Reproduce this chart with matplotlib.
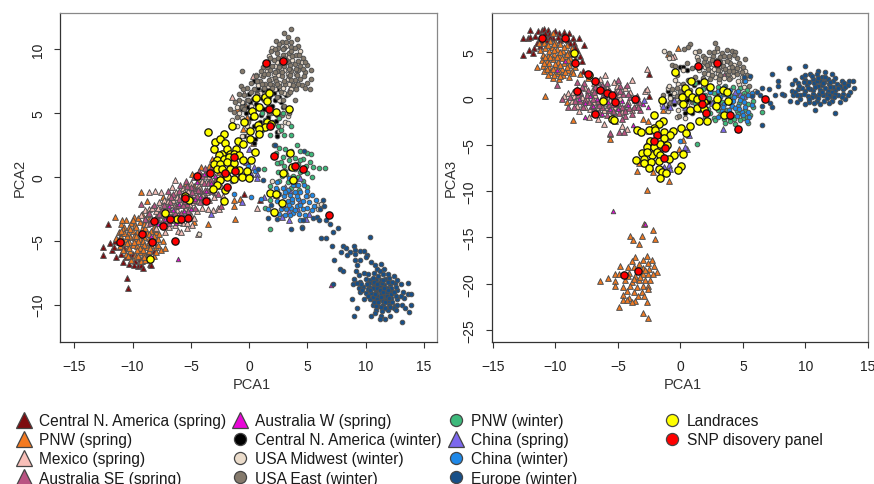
import matplotlib
matplotlib.use("Agg")
import matplotlib.pyplot as plt
from matplotlib.lines import Line2D

plt.rcParams['font.family'] = ['Liberation Sans', 'DejaVu Sans']

# ---------- PCA1 vs PCA2 ----------
cna_s_12 = [(-12.5,-5.5),(-12.5,-6.1),(-12.1,-3.7),(-11.9,-5.2),(-11.8,-5.7),(-11.6,-5.5),(-11.4,-6.3),(-11.2,-4.9),(-11.0,-6.0),(-10.8,-6.7),(-10.7,-5.6),(-10.5,-7.9),(-10.4,-8.7),(-10.2,-6.2),(-9.8,-6.6),(-9.5,-7.0),(-9.3,-6.9),(-9.2,-6.6),(-8.9,-6.2),(-8.5,-6.8),(-8.4,-6.9),(-8.2,-5.8),(-0.4,-1.3),(0.9,-1.8),(-10.9,-4.4),(-9.9,-6.9),(-11.5,-5.0),(-11.1,-5.5),(-10.6,-6.3),(-10.0,-6.0),(-9.4,-6.4),(-8.7,-5.9),(-9.1,-7.1),(-10.3,-6.8)]
pnw_s_12 = [(-11.5,-3.1),(-10.6,-3.4),(-9.9,-3.1),(-9.2,-2.9),(-8.6,-3.2),(-11.0,-3.7),(-10.7,-3.9),(-10.1,-3.6),(-9.8,-3.8),(-9.4,-3.5),(-9.0,-3.7),(-8.7,-3.6),(-8.2,-3.9),(-11.2,-4.3),(-10.8,-4.1),(-10.4,-4.4),(-10.0,-4.2),(-9.6,-4.3),(-9.2,-4.1),(-8.8,-4.4),(-8.4,-4.2),(-8.0,-4.3),(-11.4,-4.8),(-11.0,-4.7),(-10.6,-4.9),(-10.2,-4.7),(-9.8,-4.8),(-9.4,-4.9),(-9.0,-4.7),(-8.6,-4.8),(-8.2,-4.6),(-7.8,-4.9),(-11.1,-5.4),(-10.8,-5.2),(-10.4,-5.5),(-10.0,-5.3),(-9.6,-5.4),(-9.2,-5.2),(-8.8,-5.5),(-8.4,-5.3),(-8.0,-5.5),(-7.6,-5.7),(-10.6,-6.0),(-10.2,-5.8),(-9.8,-6.1),(-9.4,-5.9),(-9.0,-6.0),(-8.6,-5.8),(-8.2,-6.2),(-10.1,-6.5),(-9.7,-6.3),(-9.3,-6.6),(-8.9,-6.5),(-8.5,-6.3),(-9.9,-4.6),(-9.5,-5.0),(-10.3,-5.1),(-9.1,-5.0),(-8.9,-4.0),(-10.5,-4.6),(-9.7,-3.9),(-10.9,-5.0),
 (-9.3,-1.2),(-7.4,-1.6),(-8.8,-1.9),(-4.7,-0.7),(-4.4,-0.2),(-4.1,0.8),(-3.8,0.2),(-3.4,-0.4),(-4.9,0.2),(-3.0,0.7),(-2.6,0.4),(-3.2,1.4),(-1.3,-2.3),(-1.3,-1.8),(-1.2,-3.3),(-0.8,-1.7),(-3.5,-3.7),(-4.7,-3.5),(-0.8,5.5),(-0.3,5.6),(-0.2,4.7),(-0.5,3.8),(-1.0,5.3),(0.3,2.7),(-2.8,-0.1),(-5.4,-0.5),(-7.3,-2.7),(-7.9,-3.0),
 (-10.9,-3.4),(-10.3,-3.9),(-9.5,-3.2),(-8.9,-3.3),(-10.7,-4.4),(-10.2,-4.1),(-9.7,-4.6),(-9.3,-4.4),(-8.6,-4.5),(-8.1,-4.1),(-11.2,-5.1),(-10.5,-5.2),(-9.9,-5.1),(-9.4,-5.6),(-9.0,-5.3),(-8.6,-5.1),(-8.2,-5.1),(-7.8,-5.3),(-10.8,-5.7),(-10.3,-5.6),(-9.6,-5.7),(-9.1,-5.7),(-8.5,-5.6),(-8.0,-5.9),(-10.4,-6.2),(-9.5,-6.2),(-9.0,-6.3),(-7.4,-5.0),(-7.7,-4.5),(-7.2,-5.6),(-10.0,-3.4),(-11.0,-4.2),(-2.4,1.0),(-1.8,0.2),(-2.1,1.8),(-1.2,0.9),(-0.9,0.1),(-3.4,0.9)]
mex_s_12 = [(-9.3,-3.0),(-8.9,-2.6),(-8.6,-2.5),(-8.4,-3.2),(-8.0,-2.7),(-7.7,-2.0),(-7.4,-3.0),(-7.2,-2.2),(-6.9,-1.5),(-6.8,-2.7),(-6.5,-1.8),(-6.3,-1.2),(-6.2,-2.6),(-5.9,-1.5),(-5.7,-0.9),(-5.5,-2.4),(-5.2,-1.1),(-5.0,-0.5),(-4.9,-2.0),(-4.6,-1.0),(-4.3,-0.6),(-4.0,-1.3),(-3.7,-0.4),(-3.4,0.1),(-8.6,-1.2),(-8.1,-1.1),(-7.6,-1.2),(-7.3,-1.8),(-6.6,-0.8),(-6.4,-0.2),(-8.0,-4.0),(-7.7,-3.6),(-7.2,-4.3),(-6.9,-3.9),(-6.4,-3.8),(-6.1,-4.2),(-5.8,-4.3),(-5.3,-4.0),(-4.9,-3.8),(-4.4,-4.5),(-5.0,-3.0),(-4.5,-2.7),(-4.0,-2.4),(-3.4,-1.8),(-2.9,-1.2),(-2.7,-2.4),(-2.6,-2.5),(-3.1,-2.6),(-2.2,-1.5),(-8.8,-3.7),(-8.2,-3.4),(-7.8,-2.4),(-6.1,-3.0),(-5.7,-3.6),(-5.4,-3.2),(-6.7,-2.1),(0.7,-2.4),(0.3,7.9),(-0.4,6.6),(-1.5,6.3),
 (-8.7,-2.9),(-8.3,-2.4),(-7.9,-3.1),(-7.5,-2.3),(-7.1,-3.4),(-7.0,-1.9),(-6.6,-3.4),(-6.4,-2.2),(-6.0,-3.5),(-5.9,-2.0),(-5.6,-1.2),(-5.3,-3.6),(-5.1,-2.2),(-4.8,-1.3),(-4.7,-3.2),(-4.4,-1.9),(-4.2,-0.9),(-3.9,-1.9),(-3.6,-1.2),(-3.2,-0.7),(-3.0,-1.6),(-7.4,-2.6),(-6.2,-1.6),(-5.0,-1.6),(-4.0,-0.3),(-3.5,-2.5),(-2.4,-0.7)]
ause_s_12 = [(-9.3,-2.1),(-8.6,-2.8),(-8.2,-2.2),(-7.9,-3.3),(-7.5,-2.6),(-7.1,-2.9),(-6.8,-2.0),(-6.6,-3.1),(-6.3,-2.3),(-6.0,-1.7),(-5.8,-2.8),(-5.6,-1.4),(-5.3,-2.1),(-5.0,-1.6),(-4.8,-0.9),(-4.5,-1.5),(-4.2,-1.1),(-3.9,-0.5),(-3.6,-1.0),(-3.3,-0.2),(-3.0,-0.6),(-2.7,-1.3),(-7.4,-3.4),(-6.9,-3.6),(-6.2,-3.4),(-5.6,-3.1),(-4.6,-2.4),(-4.2,-2.0),(-3.7,-1.6),(-7.0,-1.1),(-6.5,-1.3),(-5.9,-0.6),(-5.4,-0.3),(-4.7,0.0),(-4.3,0.5),(-3.8,0.7),(-3.2,0.9),(-8.5,-3.6),(-8.9,-3.3),(-2.4,-2.3),(3.5,7.0),
 (-7.7,-2.9),(-7.3,-2.2),(-7.0,-2.5),(-6.7,-1.6),(-6.4,-2.8),(-6.1,-2.2),(-5.7,-2.2),(-5.5,-1.9),(-5.2,-2.7),(-4.9,-1.2),(-4.7,-1.8),(-4.4,-1.0),(-4.1,-1.6),(-3.8,-1.0),(-3.5,-0.5),(-3.2,-1.1),(-2.8,-0.2),(-2.4,0.1),(-5.0,-0.8),(-6.0,-1.1),(-5.3,-0.7),(-4.0,0.1),(-3.6,0.3)]
ausw_s_12 = [(-6.1,-6.4),(7.0,-8.5),(-7.2,-3.3),(-6.9,-2.3),(-6.5,-2.6),(-6.0,-2.1),(-5.6,-2.7),(-5.3,-1.8),(-5.0,-2.5),(-4.6,-1.7),(-4.2,-1.6),(-3.7,-1.1),(-3.3,-0.5),(-2.9,0.1),(-7.8,-3.7),(-8.4,-4.6),(-6.3,-3.6),(-5.9,-3.1),(-3.9,0.2),(-4.5,-0.4)]
cna_w_12 = [(0.4,7.5),(0.8,7.0),(1.2,6.8),(1.6,6.9),(2.1,6.6),(2.4,6.9),(0.0,6.5),(0.3,6.1),(1.1,6.2),(2.2,6.0),(2.6,6.3),(-0.5,5.8),(-0.1,5.5),(0.6,5.7),(1.3,5.3),(2.0,5.6),(2.9,5.5),(-0.3,5.0),(0.2,4.6),(1.0,4.9),(1.6,4.7),(2.4,4.9),(-0.2,4.3),(0.4,4.0),(0.9,4.3),(2.3,4.4),(2.4,3.5),(2.4,3.2),(0.5,3.0),(0.4,2.7),(-0.4,3.2),(3.2,6.4),(1.5,4.0),(0.0,3.7),(1.7,6.3),(0.7,6.6),(2.7,5.9),(-0.6,5.3),(0.1,5.9)]
mw_w_12 = [(2.0,10.1),(2.8,9.3),(3.0,8.4),(2.5,8.0),(3.5,8.5),(4.0,8.1),(4.4,9.9),(4.5,9.0),(3.2,10.3),(1.7,9.5),(2.2,8.7),(1.5,8.3),(1.0,8.0),(0.6,8.0),(0.8,7.2),(1.9,7.7),(2.6,7.4),(3.3,7.7),(4.0,7.1),(3.6,6.9),(3.0,6.6),(2.6,6.0),(1.5,6.4),(3.1,9.6),(3.7,9.2),(-0.2,6.0),(-0.6,5.9),(-1.0,5.5),(-0.9,5.0),(-1.5,4.5),(-1.0,4.0),(-0.6,4.6),(-0.2,4.0),(0.2,5.6),(0.9,6.6),(3.3,4.8),(3.1,4.3),(2.7,4.0),(3.3,4.2),(2.6,3.6),(5.0,-1.5),(5.9,-2.2),(5.9,-2.5),(6.2,-2.1),(2.0,-0.3),(2.6,1.1),(-4.3,-4.5),(-0.6,3.2),(-0.1,3.3),(1.9,5.0),(2.4,9.0),(2.9,8.8),(3.4,9.4),(2.1,8.1),(2.7,8.5),(3.3,8.1),(1.6,7.1),(2.2,6.9),(2.9,7.0),(3.4,7.3)]
east_w_12 = [(3.6,11.6),(3.0,11.3),(3.3,11.0),(2.8,10.6),(3.6,10.6),(4.1,10.8),(2.3,10.7),(2.5,10.1),(3.0,10.1),(3.6,10.2),(4.2,10.3),(1.9,9.9),(2.4,9.7),(3.4,9.7),(4.0,9.6),(4.6,9.3),(1.6,9.0),(2.1,9.2),(2.7,8.9),(3.3,9.0),(3.9,8.9),(4.4,8.7),(5.0,8.8),(5.3,8.4),(1.2,8.6),(1.8,8.4),(2.4,8.3),(3.0,8.7),(3.6,8.3),(4.2,8.4),(4.8,8.2),(5.3,7.7),(0.6,7.9),(1.2,7.9),(1.7,7.6),(2.2,7.8),(2.8,7.9),(3.4,7.9),(3.9,7.6),(4.4,7.7),(5.0,7.4),(5.2,6.9),(-0.6,8.3),(0.2,7.4),(0.9,7.5),(1.4,7.3),(2.0,7.2),(2.6,7.1),(3.1,7.3),(3.8,7.2),(4.5,7.2),(4.0,6.9),(-0.7,7.1),(-0.2,7.0),(0.4,6.9),(1.9,6.5),(2.4,6.3),(3.3,6.5),(3.9,6.0),(2.9,6.0),(-0.9,6.5),(-0.4,6.4),(-0.9,6.0),(-0.1,6.0),(-0.6,5.5),(-1.2,5.9),(-1.6,5.3),(-1.3,5.1),(-1.0,4.7),(-0.4,5.3),(0.1,5.2),(0.7,6.5),(1.3,6.0),(1.7,5.0),(2.8,4.9),(3.0,5.6),(3.4,5.0),(-0.1,4.3),(0.5,4.8),(1.3,7.0),(2.3,7.5),(3.5,8.8),(2.9,9.6),(1.3,8.1),(3.2,9.2),
 (2.6,10.4),(3.2,10.6),(3.9,10.1),(2.2,10.0),(2.9,10.0),(3.6,9.9),(4.3,9.6),(1.8,9.3),(2.5,9.3),(3.0,9.3),(3.7,9.5),(4.2,9.1),(4.8,9.0),(1.5,8.6),(2.0,8.7),(2.6,8.6),(3.4,8.5),(4.0,8.5),(4.6,8.5),(1.0,8.3),(1.6,8.1),(2.2,8.2),(2.8,8.2),(3.5,8.0),(4.1,8.0),(4.7,7.9),(0.7,7.5),(1.1,7.3),(1.8,7.3),(2.4,7.3),(3.0,7.5),(3.6,7.6),(4.2,7.3),(4.8,7.0),(1.5,6.7),(2.0,7.0),(2.7,6.7),(3.5,6.7),(0.2,6.7),(-0.5,6.9),(0.8,5.4),(0.3,5.0)]
pnw_w_12 = [(2.1,2.5),(2.6,2.3),(3.1,2.2),(3.6,2.0),(4.1,2.5),(4.4,2.0),(5.0,1.9),(5.3,1.8),(2.3,1.9),(2.9,1.6),(3.4,1.3),(3.9,1.5),(4.6,1.4),(5.2,1.2),(2.4,1.1),(3.0,0.9),(3.5,0.7),(4.2,1.0),(4.9,0.9),(5.5,0.8),(6.5,0.7),(6.0,0.7),(2.5,0.4),(3.2,0.2),(3.8,0.1),(4.4,0.4),(5.0,0.3),(5.4,0.0),(1.3,0.6),(2.6,-0.3),(3.3,-0.4),(4.0,-0.6),(4.6,-0.3),(5.0,-0.8),(1.8,-0.7),(2.4,-1.0),(3.6,-0.9),(4.3,-1.0),(1.8,-1.8),(1.4,-2.4),(1.8,-4.1),(3.6,4.0),(3.6,3.3),(3.0,3.3),(2.7,3.7),(1.8,3.3),(1.4,4.0),(2.6,4.6),(1.1,5.0),(1.6,5.4),(2.1,5.1),(2.9,5.0),(1.4,4.5),(2.0,4.3),(2.5,4.0),(1.1,3.7),(3.3,1.8),(2.7,1.2),(4.4,1.3),(3.1,0.5),(3.9,0.6),(4.7,0.6),(2.8,0.1),(3.5,-0.1),(4.2,0.0)]
chn_s_12 = [(0.4,0.8),(0.7,0.2),(0.2,0.2),(0.7,-0.1),(-0.6,-2.0),(-3.3,-2.9),(1.3,-1.6),(2.3,-1.4),(3.1,-0.8),(3.5,-1.1),(3.0,-2.3),(2.8,-3.1),(3.4,-2.7),(3.9,-0.4),(4.4,-0.1),(4.4,-1.9),(4.9,-3.3),(4.1,-2.4),(3.4,-3.4),(5.1,-2.9),(3.6,-1.7),(0.0,2.2),(-0.3,1.2)]
chn_w_12 = [(2.3,-0.9),(2.9,-0.9),(3.3,-1.0),(3.8,-0.6),(4.2,-0.6),(4.7,-0.6),(5.0,-1.1),(2.6,-1.3),(3.0,-1.5),(3.5,-1.4),(3.9,-1.2),(4.4,-1.2),(4.9,-1.5),(5.4,-1.4),(5.7,-1.8),(2.4,-1.9),(2.8,-2.0),(3.3,-1.9),(3.7,-2.0),(4.2,-1.7),(4.6,-1.9),(5.1,-2.0),(5.6,-2.3),(2.7,-2.5),(3.2,-2.5),(3.6,-2.4),(4.1,-2.3),(4.6,-2.5),(5.0,-2.4),(5.4,-2.6),(1.6,-2.5),(2.1,-2.9),(2.6,-2.9),(3.1,-3.0),(3.8,-2.8),(4.3,-2.9),(4.8,-3.0),(4.4,-3.4),(4.5,-3.9),(0.2,-1.6),(-1.3,-1.3),(-1.5,-0.3),(-0.1,0.9),(0.5,0.5),(1.0,-1.7),(2.4,-0.4),(3.4,-0.1),(3.1,-1.2),(3.7,-1.7),(4.1,-1.5),(3.4,-2.2),(3.9,-2.6),(4.4,-2.2),(2.9,-2.3),(3.5,-3.0)]
eur_w_12 = [(2.2,2.5),(4.7,2.0),(0.8,0.6),(1.2,-0.2),(1.9,-2.2),(1.6,-3.2),(2.4,-3.3),(3.6,-4.1),(4.5,-4.0),(4.6,-3.4),(5.5,-3.2),(5.8,-3.1),(6.0,-3.4),(6.1,-2.5),(6.3,-1.8),(6.4,-2.3),(6.6,-3.4),(6.9,-3.7),(7.2,-4.3),(7.6,-4.0),(6.2,-4.8),(6.6,-4.8),(7.1,-5.4),(7.3,-6.5),(7.8,-7.2),(8.1,-7.4),(7.9,-5.9),(8.1,-5.4),(8.3,-5.6),(8.7,-5.9),(8.4,-6.1),(9.0,-5.4),(9.1,-5.7),(9.1,-6.0),(9.5,-5.8),(9.5,-6.5),(9.9,-5.8),(10.1,-6.1),(10.0,-6.3),(9.1,-6.5),(9.3,-6.9),(10.4,-4.7),(10.5,-6.7),(10.8,-6.9),(11.3,-6.8),(11.0,-7.2),(9.2,-7.4),(9.4,-7.7),(9.9,-7.5),(10.2,-7.6),(10.7,-7.5),(11.2,-7.4),(11.5,-7.6),(9.0,-8.0),(9.5,-8.2),(10.0,-8.0),(10.4,-8.1),(10.9,-8.0),(11.3,-8.1),(11.7,-8.0),(12.0,-7.9),(12.4,-7.8),(8.9,-8.4),(9.4,-8.7),(9.8,-8.6),(10.3,-8.6),(10.8,-8.5),(11.2,-8.6),(11.6,-8.5),(12.1,-8.4),(12.5,-8.3),(13.0,-8.4),(13.6,-8.3),(7.2,-8.4),(9.5,-9.0),(10.0,-9.1),(10.5,-9.1),(10.9,-9.0),(11.3,-9.1),(11.8,-9.0),(12.2,-8.9),(12.7,-8.9),(13.2,-9.0),(13.6,-9.2),(13.9,-9.2),(8.8,-9.6),(9.9,-9.6),(10.4,-9.6),(10.8,-9.5),(11.3,-9.6),(11.7,-9.5),(12.2,-9.5),(12.7,-9.6),(13.3,-9.5),(10.6,-10.0),(11.1,-10.1),(11.5,-10.0),(12.0,-10.0),(12.5,-10.1),(13.1,-10.0),(13.9,-10.0),(9.3,-10.3),(10.9,-10.4),(11.4,-10.5),(11.9,-10.4),(12.4,-10.3),(13.4,-10.3),(9.0,-10.9),(10.5,-10.9),(10.8,-10.7),(11.3,-10.9),(11.7,-11.1),(11.2,-11.1),(13.1,-11.4),(13.7,-10.6),(12.1,-10.9),(10.9,-8.8),(11.6,-9.3),(10.6,-8.3),(11.0,-9.3),(11.4,-8.3),
 (10.6,-7.9),(11.1,-7.8),(11.6,-7.2),(11.9,-7.6),(10.3,-8.3),(10.7,-8.2),(11.1,-8.3),(11.5,-8.1),(11.9,-8.2),(12.3,-8.2),(12.7,-8.1),(10.2,-8.8),(10.6,-8.7),(11.0,-8.7),(11.4,-8.8),(11.8,-8.7),(12.2,-8.7),(12.6,-8.6),(9.7,-8.9),(10.2,-9.3),(10.6,-9.4),(11.0,-9.6),(11.4,-9.4),(11.8,-9.3),(12.2,-9.2),(12.6,-9.3),(13.0,-9.3),(10.7,-9.8),(11.1,-9.8),(11.5,-9.7),(11.9,-9.7),(12.3,-9.8),(12.7,-10.0),(10.9,-10.1),(11.3,-10.2),(11.7,-10.3),(12.1,-10.2),(12.6,-10.4),(10.1,-8.4),(9.6,-8.4),(9.3,-8.3),(11.2,-8.9),(11.5,-9.0),(11.9,-8.9),(10.8,-9.2),(11.6,-8.7),(12.4,-9.0),(11.3,-9.4),(12.0,-9.5),(11.0,-8.4),(10.4,-8.9),(11.7,-9.8)]
land_12 = [(-3.51,3.53),(-1.43,3.98),(-2.17,3.35),(-2.89,2.75),(-2.46,3.0),(-2.11,2.7),(-3.03,2.22),(-0.94,2.83),(-0.49,2.62),(-1.09,2.17),(0.49,1.96),(-2.31,1.83),(-1.89,2.17),(-2.6,1.7),(-1.6,1.83),(-1.31,1.8),(-2.74,1.31),(-2.17,1.44),(-1.74,1.57),(-0.89,1.7),(-0.51,1.34),(0.2,1.34),(-3.03,1.0),(-2.46,1.0),(-1.89,1.18),(-1.31,1.13),(-2.74,0.65),(-2.3,0.65),(-1.6,0.65),(-0.89,0.52),(-0.17,0.45),(-0.6,0.0),(0.03,-0.05),(-1.31,-0.13),(-1.89,0.0),(-2.46,-0.26),(-2.74,-0.6),(-3.11,-0.92),(-2.11,-1.05),(-2.17,-1.86),(-5.46,-1.49),(-5.17,-1.78),(-7.2,-2.85),(-6.17,-3.3),(-8.51,-6.41),(1.8,-1.28),(2.29,-1.34),(2.86,-2.07),(2.17,-2.72),(3.77,-0.26),(2.94,0.34),(3.71,0.76),(3.49,1.88),(0.6,6.18),(1.34,6.31),(1.69,6.62),(1.54,5.94),(0.83,5.47),(0.26,5.16),(0.43,4.79),(-0.43,4.35),(2.34,5.08),(3.46,5.34),(0.74,4.06),(1.54,4.32),(1.89,4.19),(1.4,3.93),(0.11,3.61),(0.86,3.74),(0.83,3.4),(0.09,3.01)]
red_12 = [(-11.05,-5.13),(-9.17,-4.45),(-8.37,-5.08),(-8.2,-3.43),(-7.37,-3.85),(-6.8,-3.32),(-6.4,-5.03),(-5.83,-3.3),(-5.2,-3.25),(-5.46,-1.68),(-3.66,-1.91),(-4.49,0.05),(-3.37,0.34),(-2.03,0.34),(-1.23,0.5),(-1.31,1.57),(-1.86,-0.79),(2.11,1.62),(3.97,0.86),(4.63,0.63),(6.83,-3.01),(1.77,4.03),(1.74,5.31),(1.43,8.95),(2.94,9.11)]

# ---------- PCA1 vs PCA3 ----------
cna_s_13 = [(-12.6,6.5),(-12.2,6.5),(-12.0,7.3),(-12.0,6.6),(-12.1,5.2),(-12.6,4.7),(-11.7,5.4),(-11.8,4.9),(-11.6,6.7),(-11.4,7.2),(-11.1,7.4),(-10.9,7.5),(-10.6,7.4),(-10.9,6.8),(-10.5,6.9),(-10.0,7.2),(-9.7,7.0),(-9.3,7.1),(-8.9,7.0),(-8.6,6.5),(-8.1,6.5),(-9.0,6.3),(-8.5,5.9),(-7.7,5.7),(-8.3,5.2),(-8.0,4.6),(-8.4,4.2),(-7.9,4.0),(-10.2,6.5),(-9.6,6.3),(-11.3,6.2),(-10.7,6.3),(-2.5,2.6),(-2.5,0.2),(-7.8,2.9),(-11.0,6.2),(-10.4,6.6),(-9.8,6.6),(-9.3,6.5),(-8.8,6.0),(-11.2,5.6),(-8.4,5.5),(-11.5,5.9),(-10.8,7.0)]
pnw_s_13 = [(-11.3,5.9),(-10.9,6.0),(-10.4,6.2),(-10.0,6.1),(-9.6,5.8),(-9.1,5.7),(-8.7,5.4),(-11.2,5.2),(-10.8,5.4),(-10.3,5.5),(-9.9,5.3),(-9.4,5.1),(-9.0,5.0),(-8.5,4.8),(-11.0,4.7),(-10.6,4.6),(-10.1,4.8),(-9.7,4.6),(-9.2,4.5),(-8.8,4.3),(-11.1,4.1),(-10.7,4.0),(-10.2,4.2),(-9.8,3.9),(-9.3,3.8),(-8.9,3.6),(-8.4,3.4),(-11.5,3.4),(-11.0,3.5),(-10.5,3.4),(-10.0,3.3),(-9.5,3.1),(-9.0,3.0),(-10.9,2.9),(-10.4,2.8),(-9.9,2.7),(-9.4,2.5),(-8.9,2.3),(-10.2,2.2),(-9.7,2.1),(-11.0,6.6),(-10.2,7.0),(-10.8,0.2),(-9.1,-0.4),(-8.6,-2.3),(-5.6,-3.9),(-5.6,-4.4),(-8.0,2.6),(-7.4,2.2),(-3.0,-2.2),(-2.6,-2.5),(-0.2,5.4),(-1.0,4.8),(-1.4,-1.3),(-2.5,-3.5),(-2.2,-8.0),(-3.5,-7.8),(-2.7,-9.9),(-0.9,-8.9),(-0.1,-5.5),(-3.3,-7.0),(-1.1,-7.8),(0.2,-4.5),
 (-10.6,5.7),(-10.1,5.8),(-9.3,5.5),(-8.8,4.9),(-10.5,5.1),(-10.1,5.2),(-9.6,5.0),(-9.1,4.8),(-10.8,4.4),(-10.4,4.4),(-9.9,4.4),(-9.5,4.3),(-9.0,4.1),(-8.6,3.9),(-10.9,3.8),(-10.5,3.8),(-10.0,3.7),(-9.6,3.6),(-9.1,3.4),(-8.7,2.9),(-10.7,3.2),(-10.2,3.1),(-9.7,2.9),(-9.2,2.8),(-8.6,2.7),(-10.6,2.5),(-10.1,2.5),(-9.6,2.4),
 (-2.9,-13.6),(-2.2,-14.2),(-2.0,-15.2),(-3.1,-14.9),(-4.0,-14.9),(-3.8,-15.3),(-3.3,-15.7),(-2.7,-17.0),(-3.6,-17.1),(-3.9,-17.6),(-3.0,-17.4),(-2.3,-17.4),(-3.3,-17.9),(-2.6,-17.8),(-4.8,-18.1),(-4.2,-18.2),(-3.7,-18.2),(-3.0,-18.3),(-2.5,-18.4),(-2.1,-18.1),(-1.9,-18.7),(-5.2,-19.0),(-4.9,-18.9),(-4.1,-18.8),(-3.6,-19.2),(-3.0,-19.0),(-2.6,-18.9),(-2.2,-18.9),(-5.8,-19.4),(-6.4,-19.7),(-5.2,-19.7),(-4.4,-19.6),(-3.9,-19.8),(-3.3,-19.6),(-2.8,-19.6),(-2.4,-19.6),(-5.2,-20.2),(-4.6,-20.3),(-4.0,-20.2),(-3.5,-20.3),(-3.0,-20.2),(-2.6,-20.2),(-4.3,-20.8),(-3.7,-20.9),(-3.1,-20.9),(-2.6,-20.6),(-4.6,-21.2),(-4.1,-21.5),(-3.4,-21.3),(-2.9,-21.3),(-4.6,-21.8),(-4.3,-21.7),(-3.6,-21.9),(-3.9,-22.0),(-2.7,-22.0),(-4.9,-22.5),(-3.0,-23.2),(-2.6,-23.7),(-3.4,-18.6),(-2.8,-18.5),(-3.2,-19.3),(-3.7,-19.5),(-4.2,-19.2)]
mex_s_13 = [(-3.9,2.0),(-2.7,3.2),(-6.0,2.5),(-6.4,2.1),(-5.3,1.8),(-6.9,1.6),(-7.6,1.1),(-8.3,1.0),(-9.0,0.6),(-9.3,0.2),(-8.7,-0.3),(-7.9,0.1),(-7.2,0.4),(-6.6,0.9),(-5.9,1.1),(-5.1,1.3),(-4.4,1.1),(-4.0,0.7),(-8.1,-1.4),(-7.2,-1.2),(-6.3,-0.5),(-5.6,-0.2),(-4.8,0.0),(-4.2,-0.4),(-3.5,-0.6),(-7.8,-0.6),(-6.9,-0.4),(-6.1,-1.3),(-5.2,-1.0),(-4.5,-1.1),(-3.9,-1.3),(-6.6,-2.2),(-6.1,-2.8),(-5.2,-2.5),(-4.7,-3.0),(-4.3,-3.3),(-2.8,0.8),(-2.7,1.0),(-0.5,4.6),(-0.7,4.4),(-7.3,-2.0),(-8.5,0.2),(-7.5,-0.1),(-6.8,0.3),(-4.9,0.5),(-8.6,0.7),(-8.0,0.6),(-7.4,0.7),(-7.0,1.0),(-6.2,1.3),(-5.6,0.7),(-5.0,0.9),(-8.3,-0.8),(-7.6,-0.9),(-6.7,-0.9),(-5.9,-0.9),(-5.3,-1.5),(-4.7,-1.5),(-7.0,-1.6),(-6.4,-1.7)]
ause_s_13 = [(-9.5,-0.1),(-9.0,-0.9),(-8.4,-0.3),(-7.8,-1.0),(-7.3,-0.4),(-6.9,-1.1),(-6.3,-1.0),(-5.9,-1.8),(-5.4,-1.4),(-4.9,-1.6),(-4.4,-1.9),(-3.9,-1.7),(-8.0,0.7),(-7.4,0.9),(-6.8,1.2),(-6.3,1.4),(-5.7,0.9),(-5.2,0.7),(-4.6,0.5),(-4.0,0.1),(-3.5,0.2),(-7.0,-0.1),(-6.3,0.1),(-5.7,-0.7),(-5.0,-0.5),(-4.3,-0.6),(-3.7,-1.0),(-3.2,-1.3),(-5.6,-3.8),(-4.9,-3.6),(-4.5,-3.6),(-9.9,1.4),(-8.3,1.8),(-7.7,1.6),(-5.0,2.0),(-4.8,1.3),(-4.3,1.4),(-3.3,-0.4),(-6.5,-0.7),(-7.6,-0.2),(3.5,2.5),(-1.7,-4.0),(-2.1,-4.6),(-1.0,-4.2),(-2.7,-4.8),(-3.2,-3.4),
 (-8.8,0.1),(-8.2,0.4),(-7.5,0.3),(-6.9,0.7),(-6.1,0.7),(-5.5,0.3),(-4.8,0.8),(-4.2,0.5),(-3.6,-0.2),(-8.5,-1.0),(-8.0,-0.3),(-7.1,-0.8),(-6.6,-0.3),(-6.0,-0.2),(-5.4,-0.6),(-4.7,-0.9),(-4.1,-1.1),(-3.4,-1.0),(-6.5,-1.5),(-5.7,-1.3),(-5.0,-1.1),(-4.4,-1.4),(-5.4,-2.0),(-4.7,-2.2),(-6.0,0.2),(-5.2,0.2),(-7.9,1.2),(-6.6,1.7),(-5.9,1.6)]
ausw_s_13 = [(-5.4,-12.2),(-2.8,-13.6),(-9.2,4.0),(-9.9,3.0),(-7.6,-2.0),(-8.1,-0.1),(-7.6,-0.5),(-7.0,-0.8),(-6.3,-1.7),(-5.6,-1.2),(-5.0,-1.2),(-4.2,-0.7),(-3.8,-2.9),(-3.0,-0.6),(-2.6,-1.0),(-7.2,0.2),(-6.0,0.4),(-5.3,0.0),(-2.0,-5.0),(-1.6,-5.6),(-6.7,-0.1),(-5.8,-0.4),(-4.7,-0.3)]
cna_w_13 = [(-0.0,3.4),(0.2,3.4),(0.5,3.0),(-1.0,0.8),(-0.8,0.4),(-1.0,-0.9),(-0.6,-0.1),(-0.5,-0.6),(0.1,0.6),(0.5,-0.2),(0.7,-1.2),(1.0,0.0),(1.1,1.4),(1.4,1.8),(1.8,2.0),(2.2,1.1),(0.3,0.5),(0.9,-1.6),(1.2,-0.2),(2.3,-0.4),(2.9,0.6),(-1.3,-0.3),(-0.9,-0.6),(0.4,-1.6),(2.4,0.7)]
mw_w_13 = [(-1.3,5.1),(-0.9,4.3),(0.2,3.0),(1.3,4.4),(1.2,5.0),(2.3,4.2),(2.6,3.7),(3.4,3.9),(3.9,4.3),(4.3,3.6),(2.0,3.4),(1.5,3.0),(2.5,2.9),(3.2,3.0),(3.9,3.3),(4.7,3.2),(5.2,2.9),(2.8,2.3),(3.5,2.2),(4.2,2.4),(4.9,2.3),(5.5,2.2),(4.7,1.5),(5.1,1.2),(-1.5,-0.7),(-1.4,-0.2),(-1.0,1.1),(-0.9,1.3),(-0.4,2.0),(-0.2,1.5),(0.0,1.2),(-0.5,0.6),(0.2,-0.3),(-0.2,-1.3),(0.4,-2.1),(0.5,-0.7),(0.8,1.9),(1.4,0.6),(1.8,1.2),(3.1,1.7),(3.5,1.0),(6.0,0.8),(5.7,0.3),(2.9,5.1),(-0.8,0.0),(-0.3,-2.0),(-1.0,-1.4),(2.2,2.6),(3.0,2.7),(3.7,2.8),(4.4,2.9),(2.7,3.2),(3.4,3.3),(4.0,2.2),(4.6,1.9)]
east_w_13 = [(2.8,5.9),(2.9,5.4),(3.7,5.2),(4.1,5.1),(4.4,5.0),(2.3,5.0),(3.3,4.9),(1.8,4.6),(2.6,4.6),(3.2,4.4),(3.9,4.6),(4.5,4.3),(1.5,5.1),(0.8,5.8),(0.6,5.5),(0.3,5.3),(-0.9,4.9),(-0.7,3.6),(-0.4,3.5),(0.5,3.8),(1.9,3.9),(2.5,4.1),(3.4,3.5),(4.0,3.8),(4.7,3.8),(5.2,4.2),(1.6,3.4),(2.2,3.2),(2.9,3.5),(3.6,3.1),(4.2,2.9),(4.9,2.8),(5.3,2.5),(1.9,2.7),(2.5,2.5),(3.2,2.5),(3.8,2.6),(4.5,2.6),(5.1,1.9),(5.5,1.3),(0.6,2.0),(1.2,2.3),(1.8,2.2),(-0.3,2.5),(-0.3,1.1),(0.2,1.5),(0.8,0.9),(0.0,0.7),(-0.8,-0.5),(-0.3,0.2),(0.4,0.1),(-0.1,-0.4),(0.9,-0.4),(-0.1,-1.9),(-1.4,0.3),(-0.7,1.0),(2.3,3.7),(2.9,4.1),(3.7,4.0),(4.1,3.4),(3.2,3.9),(2.0,4.3),(2.7,5.0),(3.5,4.6),(4.3,4.7),(1.4,4.1),(2.1,3.6),(3.0,3.0),(3.9,2.9),(4.5,3.3),(5.0,3.4),(2.4,2.1),(3.1,2.1),(3.9,2.1),(0.9,3.3)]
pnw_w_13 = [(1.2,1.6),(1.8,1.0),(2.4,1.3),(3.0,1.2),(3.6,1.3),(4.2,1.2),(4.8,1.1),(5.3,0.9),(1.4,0.5),(2.0,0.4),(2.7,0.6),(3.4,0.5),(4.0,0.4),(4.6,0.4),(5.2,0.2),(5.7,0.3),(1.2,-0.5),(1.9,-0.7),(2.6,-0.4),(3.3,-0.4),(4.0,-0.5),(4.7,-0.5),(5.4,-0.6),(5.8,-0.3),(1.5,-1.3),(2.2,-1.2),(3.0,-1.3),(3.7,-1.3),(4.5,-1.4),(5.2,-1.3),(5.8,-1.0),(2.0,-2.0),(2.7,-2.1),(3.5,-2.2),(4.3,-2.2),(5.0,-2.1),(5.6,-1.8),(2.8,-2.4),(3.6,-2.7),(4.4,-2.8),(5.4,-2.7),(6.5,-1.5),(1.3,-4.9),(4.0,-2.5),(4.8,-2.3),(0.9,-0.2),(2.4,-1.6),(3.2,-1.8),(3.9,-1.8),(4.6,-1.7),(2.3,0.0),(3.0,0.1),(1.6,-0.2),(5.3,-2.0),(5.1,0.6)]
chn_s_13 = [(-2.9,-0.2),(-1.4,-0.8),(-0.8,-0.9),(-0.5,-0.2),(0.4,-1.0),(0.7,-4.0),(0.5,-5.5),(0.4,-5.3),(-0.9,-7.2),(-0.8,-7.6),(3.4,-3.3),(4.6,-3.3),(4.8,0.5),(5.1,0.2),(3.9,-1.3),(3.0,-0.4),(4.4,0.7),(2.5,-0.5),(-1.3,-7.4)]
chn_w_13 = [(5.2,1.9),(3.5,1.2),(4.0,0.9),(4.6,0.8),(3.2,0.1),(3.8,0.1),(4.3,0.1),(4.9,0.1),(5.4,0.4),(5.7,0.6),(3.5,-0.6),(4.1,-0.8),(4.6,-0.8),(5.2,-0.9),(5.7,-0.7),(3.3,-1.4),(3.9,-1.3),(4.4,-1.1),(4.9,-1.5),(5.4,-1.5),(3.0,-2.0),(3.9,-2.0),(4.5,-1.9),(5.0,-1.8),(5.5,-2.0),(5.3,-2.5),(2.7,-0.8),(2.4,0.7),(3.0,0.8),(0.0,-4.6),(3.6,0.5),(4.2,-0.3),(4.8,-0.2),(3.4,-0.9),(4.0,-1.7),(4.7,-1.2),(5.1,-0.4)]
eur_w_13 = [(7.3,2.6),(5.6,2.4),(5.1,2.3),(7.8,1.9),(7.8,1.3),(8.3,0.3),(8.1,0.5),(7.1,1.0),(6.5,1.1),(6.1,0.7),(6.4,0.3),(7.6,0.4),(7.2,-0.5),(7.3,-1.0),(6.5,-0.8),(6.5,-2.9),(5.7,0.2),(8.7,3.3),(10.0,3.5),(11.0,2.9),(10.9,2.6),(11.6,2.8),(12.1,2.6),(11.3,2.3),(10.4,2.6),(9.7,2.3),(9.2,2.0),(10.0,2.0),(10.6,2.1),(11.2,1.9),(11.8,2.1),(12.4,2.2),(12.9,1.9),(13.5,1.9),(8.9,1.5),(9.4,1.6),(10.1,1.4),(10.7,1.6),(11.3,1.4),(11.9,1.5),(12.5,1.5),(13.1,1.6),(13.8,1.9),(8.9,0.8),(9.4,1.0),(10.0,0.8),(10.6,0.9),(11.2,0.9),(11.8,0.8),(12.4,0.9),(13.0,1.0),(13.6,0.7),(13.9,1.1),(9.0,0.3),(9.6,0.3),(10.2,0.2),(10.8,0.2),(11.4,0.3),(12.0,0.2),(12.6,0.3),(13.4,0.3),(8.8,-0.3),(9.3,-0.4),(10.3,-0.4),(10.9,-0.3),(11.5,-0.3),(12.1,-0.3),(12.8,-0.4),(13.2,-0.1),(10.8,-1.3),(12.4,-1.6),(10.0,-0.6),(10.4,1.0),(11.0,1.3),(11.6,1.1),(12.2,1.2),(9.7,1.1),(10.3,1.8),(10.9,1.9),(11.5,1.7),(12.1,0.7),(10.6,0.5),(11.1,0.5),(11.7,0.5),(9.2,0.7),
 (9.9,1.8),(10.5,2.4),(11.6,2.3),(12.2,1.9),(12.8,1.3),(9.5,1.3),(10.2,1.1),(10.8,1.2),(11.4,1.6),(12.0,1.2),(12.6,1.1),(13.2,1.2),(9.3,0.4),(9.9,0.5),(10.5,0.1),(11.3,0.7),(11.9,0.3),(12.4,0.5),(13.0,0.5),(9.6,-0.1),(10.3,-0.1),(11.0,0.0),(11.7,0.0),(12.3,0.1),(10.7,-0.5),(11.2,-0.6),(11.9,-0.5),(12.9,0.1),(13.4,1.4),(11.0,2.2),(12.0,1.7),(10.0,2.5)]
land_13 = [(-8.53,4.86),(-0.45,2.84),(0.83,1.87),(1.87,1.8),(2.35,1.19),(0.4,1.15),(0.59,0.61),(1.49,0.83),(0.13,0.11),(0.21,-0.61),(0.96,0.14),(1.33,-0.11),(1.87,-0.36),(2.93,-0.11),(2.83,-0.79),(3.44,0.86),(3.73,0.65),(3.79,-0.32),(3.47,-1.8),(0.77,-1.22),(1.31,-1.08),(1.87,-1.15),(1.49,-2.41),(2.13,-2.45),(-1.44,-0.18),(-6.21,-0.32),(-5.47,-2.19),(-5.33,-2.34),(-2.13,-1.8),(-1.39,-2.41),(-1.73,-2.81),(-2.13,-3.24),(-3.47,-3.45),(-3.15,-3.6),(-2.53,-3.38),(-2.0,-3.38),(-1.33,-3.6),(-0.59,-3.53),(0.05,-3.24),(0.75,-3.02),(0.48,-3.74),(-0.85,-3.96),(-1.28,-4.32),(-2.45,-4.6),(-2.67,-5.22),(-2.13,-5.22),(-1.6,-4.93),(-1.07,-5.04),(-3.04,-5.94),(-3.55,-6.65),(-2.91,-6.55),(-2.27,-6.12),(-2.67,-5.8),(-1.87,-5.76),(-1.6,-6.12),(-0.53,-6.12),(0.19,-6.0),(-0.93,-6.58),(-2.35,-6.83),(-1.73,-6.76),(-2.93,-7.0),(-2.53,-7.55),(0.05,-7.3),(-0.19,-7.77),(-1.73,-7.63),(-1.47,-7.91),(-1.12,-8.09),(-1.63,-8.63),(-7.3,2.55)]
red_13 = [(-11.07,6.47),(-9.23,6.51),(-8.4,3.85),(-8.27,0.76),(-7.36,2.59),(-6.85,1.83),(-6.83,-1.69),(-6.43,0.86),(-5.87,0.54),(-5.47,0.32),(-5.25,-0.43),(-3.65,-0.11),(-1.87,-3.96),(-2.08,-4.64),(-1.25,-5.4),(-1.33,-6.47),(-4.48,-19.06),(-3.39,-18.67),(1.39,3.42),(2.91,3.85),(1.71,0.14),(1.73,-0.58),(2.08,-1.62),(3.95,-1.83),(4.61,-3.27),(6.8,-0.07)]

x_ticks = [-15, -10, -5, 0, 5, 10, 15]
y_ticks_12 = [-10, -5, 0, 5, 10]
y_ticks_13 = [-25, -20, -15, -10, -5, 0, 5]

group_names = ['Central N. America (spring)', 'PNW (spring)', 'Mexico (spring)', 'Australia SE (spring)',
               'Australia W (spring)', 'Central N. America (winter)', 'USA Midwest (winter)', 'USA East (winter)',
               'PNW (winter)', 'China (spring)', 'China (winter)', 'Europe (winter)',
               'Landraces', 'SNP disovery panel']
group_colors = ['#7E0B0E', '#F47A20', '#F7BFB8', '#B95382', '#E907D8', '#000000', '#EBDCCB', '#857A6C',
                '#3DB97B', '#7C68EE', '#1E88E8', '#174F88', '#FFFF00', '#FF0000']
group_markers = ['^'] * 5 + ['o'] * 3 + ['o', '^', 'o', 'o'] + ['o', 'o']

W, H = 874, 485
fig = plt.figure(figsize=(W / 100, H / 100), dpi=100, facecolor='white')


def make_axes(x0, x1, y0, y1, xlim, ylim, yticks, ylabel, lab_x, xlab_x):
    ax = fig.add_axes([x0 / W, 1 - y1 / H, (x1 - x0) / W, (y1 - y0) / H])
    ax.set_xlim(*xlim)
    ax.set_ylim(*ylim)
    ax.set_xticks(x_ticks)
    ax.set_yticks(yticks)
    ax.tick_params(length=4.5, width=0.8, color='#333333', labelsize=10, labelcolor='#222222')
    ax.tick_params(axis='x', pad=8)
    ax.tick_params(axis='y', pad=6.5)
    for t in ax.get_yticklabels():
        t.set_rotation(90)
        t.set_va('center')
    for s in ax.spines.values():
        s.set_linewidth(0.9)
    ax.spines['top'].set_color('#888888')
    ax.spines['right'].set_color('#888888')
    ax.spines['left'].set_color('#333333')
    ax.spines['bottom'].set_color('#333333')
    ax.set_xlabel('PCA1', fontsize=10.5, color='#333333')
    ax.set_ylabel(ylabel, fontsize=10.5, color='#333333')
    ax.xaxis.set_label_coords(xlab_x, -0.106)
    ax.yaxis.set_label_coords(lab_x, 0.5)
    return ax


def draw(ax, groups):
    for pts, col, mk, name in zip(groups, group_colors, group_markers, group_names):
        xs = [p[0] for p in pts]
        ys = [p[1] for p in pts]
        if name in ('Landraces', 'SNP disovery panel'):
            ax.scatter(xs, ys, s=28, c=col, marker='o', edgecolors='#111111', linewidths=0.9, zorder=5)
        elif mk == '^':
            size = 10 if name == 'Australia W (spring)' else 17
            ax.scatter(xs, ys, s=size, c=col, marker='^', edgecolors='#505050', linewidths=0.7, zorder=3)
        else:
            ax.scatter(xs, ys, s=11, c=col, marker='o', edgecolors='#505050', linewidths=0.7, zorder=3)


ax1 = make_axes(60.3, 437.3, 13.5, 343, (-16.2, 16.15), (-12.94, 12.9), y_ticks_12, 'PCA2', -0.089, 0.509)
draw(ax1, [cna_s_12, pnw_s_12, mex_s_12, ause_s_12, ausw_s_12, cna_w_12, mw_w_12, east_w_12, pnw_w_12,
           chn_s_12, chn_w_12, eur_w_12, land_12, red_12])
ax2 = make_axes(491.5, 868, 13.5, 343, (-15.1, 15.0), (-26.28, 9.24), y_ticks_13, 'PCA3', -0.09, 0.508)
draw(ax2, [cna_s_13, pnw_s_13, mex_s_13, ause_s_13, ausw_s_13, cna_w_13, mw_w_13, east_w_13, pnw_w_13,
           chn_s_13, chn_w_13, eur_w_13, land_13, red_13])

# Legend: four columns, each its own legend so the column offsets can differ
col_slices = [(0, 4), (4, 8), (8, 12), (12, 14)]
col_left = [14.7, 230.7, 446.7, 662.7]
for (a, b), left in zip(col_slices, col_left):
    handles = [Line2D([], [], linestyle='none', marker=group_markers[i], markersize=11 if group_markers[i] == '^' else 8.7,
                      markerfacecolor=group_colors[i], markeredgecolor='#444444', markeredgewidth=0.9,
                      label=group_names[i]) for i in range(a, b)]
    leg = fig.legend(handles=handles, loc='upper left', bbox_to_anchor=(left / W, 1 - 414 / H),
                     frameon=False, fontsize=11.2, borderpad=0, borderaxespad=0, handlelength=1.2,
                     handletextpad=0.366, labelspacing=0.27)
    for t in leg.get_texts():
        t.set_color('#1a1a1a')

fig.savefig('out.png', dpi=100)
